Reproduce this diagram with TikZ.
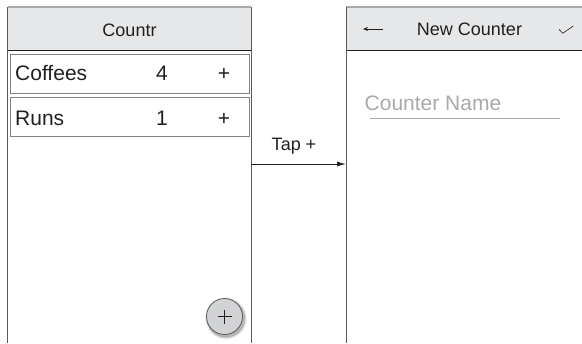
\documentclass[tikz,border=0pt]{standalone}
\usepackage{fontspec}
\setmainfont{Liberation Sans}
\usetikzlibrary{arrows.meta}
\definecolor{hdrgray}{HTML}{E6E7E8}
\definecolor{hintgray}{HTML}{A7A9AC}
\definecolor{fabgray}{HTML}{D1D3D4}
\definecolor{edgegray}{HTML}{58595B}
\definecolor{boxgray}{HTML}{808285}
\definecolor{topgray}{HTML}{A7A9AC}
\definecolor{ink}{HTML}{231F20}
\begin{document}
\begin{tikzpicture}[x=1bp,y=-1bp,
  screen/.style={draw=none, inner sep=0, anchor=north west, minimum width=243.5bp, minimum height=336bp},
  hdr/.style={fill=hdrgray, draw=none, inner sep=0, anchor=north west, minimum height=43bp},
  rowbox/.style={draw=boxgray, line width=1bp, inner sep=0, anchor=north west, minimum width=238.5bp, minimum height=38.5bp},
  big/.style={font=\fontsize{21bp}{24bp}\selectfont, text=ink, inner sep=0, anchor=base},
  mid/.style={font=\fontsize{18bp}{22bp}\selectfont, text=ink, inner sep=0, anchor=base},
  border/.style={draw=edgegray, line width=1bp},
  topline/.style={draw=topgray, line width=1.2bp},
  hdrline/.style={draw=ink, line width=1bp}]
\useasboundingbox (0,0) rectangle (582,343);

% screens
\node[screen] (screen1) at (7.5,7) {};
\node[screen, minimum width=236bp] (screen2) at (346,7) {};

% headers
\node[hdr, minimum width=243.5bp] (hdr1) at (7.5,7) {};
\node[hdr, minimum width=236bp] (hdr2) at (346,7) {};
\draw[topline] (hdr1.north west) -- (hdr1.north east);
\draw[topline] (hdr2.north west) -- (hdr2.north east);
\draw[hdrline] (hdr1.south west) -- (hdr1.south east);
\draw[hdrline] (hdr2.south west) -- (hdr2.south east);

% borders
\draw[border] (screen1.north west) -- (screen1.south west);
\draw[border] (screen1.north east) -- (screen1.south east);
\draw[border] (screen2.north west) -- (screen2.south west);

% header texts
\node[mid] (title1) at (129.5,36) {Countr};
\node[mid] (title2) at (469.5,35) {New Counter};
\coordinate (backR) at (383,29);
\coordinate (backL) at (363,29);
\draw[ink, line width=0.7bp, -{Stealth[length=5bp,width=4bp]}] (backR) -- (backL);
\coordinate (ck1) at (559,29.3);
\coordinate (ck2) at (562.7,33.3);
\coordinate (ck3) at (573.3,26);
\draw[ink, line width=0.6bp] (ck1) -- (ck2) -- (ck3);

% rows
\node[rowbox] (row1) at (10,54) {};
\node[rowbox] (row2) at (10,97) {};
\node[big, anchor=base west] (coffees) at (15,80) {Coffees};
\node[big] (n4) at (162,80) {4};
\node[big] (plus1) at (224,80) {+};
\node[big, anchor=base west] (runs) at (15,125) {Runs};
\node[big] (n1) at (162,125) {1};
\node[big] (plus2) at (224,125) {+};

% new counter field
\node[big, text=hintgray, anchor=base west] (hint) at (364.5,110) {Counter Name};
\coordinate (ulL) at (370,118);
\coordinate (ulR) at (560,118);
\draw[draw=hintgray, line width=0.9bp] (ulL) -- (ulR);

% transition
\draw[ink, line width=1bp, -{Latex[length=9bp,width=5bp]}] (screen1.east |- 0,164) -- (screen2.west |- 0,164);
\node[mid] (tap) at (294,150.7) {Tap +};

% floating button
\foreach \r/\o in {21/0.05,20/0.07,19.5/0.09,19/0.12}
  \fill[black, opacity=\o] (226,318.5) circle (\r bp);
\node[circle, minimum size=36bp, inner sep=0, fill=fabgray, draw=edgegray, line width=0.8bp] (fab) at (224.5,316.5) {};
\draw[ink, line width=0.7bp] ([xshift=-7bp]fab.center) -- ([xshift=7bp]fab.center);
\draw[ink, line width=0.7bp] ([yshift=-7bp]fab.center) -- ([yshift=7bp]fab.center);
\end{tikzpicture}
\end{document}
